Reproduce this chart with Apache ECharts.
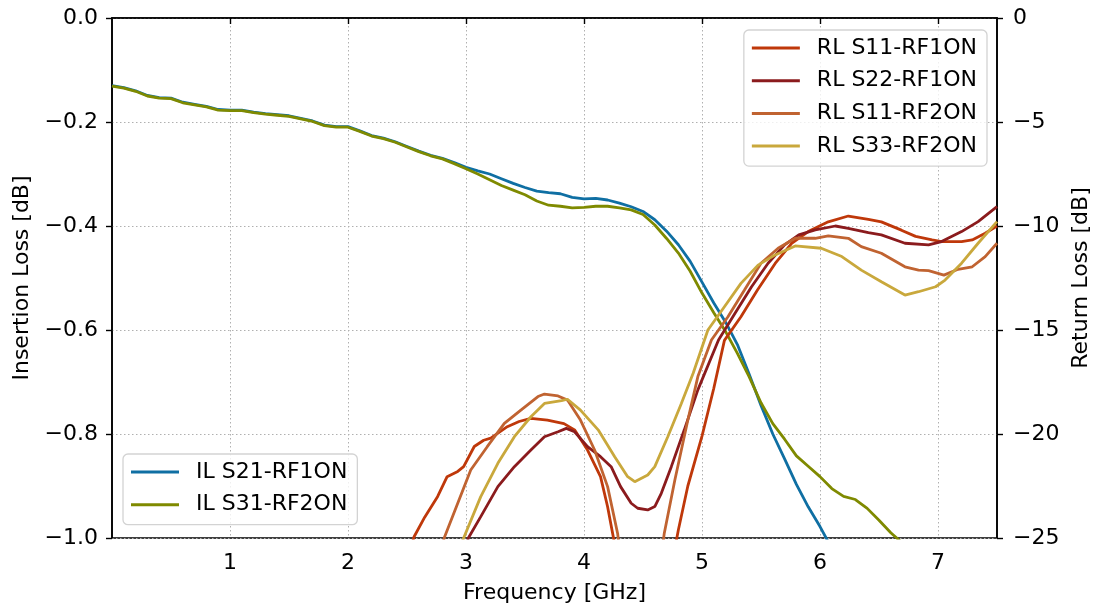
<!DOCTYPE html>
<html>
<head>
<meta charset="utf-8">
<script src="https://cdn.jsdelivr.net/npm/echarts@6/dist/echarts.min.js"></script>
<style>
  html, body { margin: 0; background: #fff; }
  #chart { width: 1094px; height: 608px; }
</style>
</head>
<body>
<div id="chart"></div>
<script>
// insertion loss, sampled every 0.1 GHz
const freqIL = [0.0, 0.1, 0.2, 0.3, 0.4, 0.5, 0.6, 0.7, 0.8, 0.9, 1.0, 1.1, 1.2, 1.3, 1.4, 1.5, 1.6, 1.7, 1.8, 1.9,
  2.0, 2.1, 2.2, 2.3, 2.4, 2.5, 2.6, 2.7, 2.8, 2.9, 3.0, 3.1, 3.2, 3.3, 3.4, 3.5, 3.6, 3.7, 3.8, 3.9,
  4.0, 4.1, 4.2, 4.3, 4.4, 4.5, 4.6, 4.7, 4.8, 4.9, 5.0, 5.1, 5.2, 5.3, 5.4, 5.5, 5.6, 5.7, 5.8, 5.9,
  6.0, 6.1, 6.2, 6.3, 6.4, 6.5, 6.6, 6.7, 6.8];
const ilS21 = [-0.130, -0.134, -0.140, -0.149, -0.153, -0.154, -0.162, -0.166, -0.170, -0.176, -0.177, -0.177, -0.181, -0.184, -0.186, -0.188, -0.193, -0.198, -0.206, -0.209,
  -0.209, -0.217, -0.226, -0.231, -0.238, -0.247, -0.256, -0.264, -0.270, -0.278, -0.287, -0.294, -0.300, -0.309, -0.318, -0.326, -0.333, -0.336, -0.338, -0.345,
  -0.348, -0.347, -0.350, -0.356, -0.363, -0.372, -0.388, -0.410, -0.436, -0.468, -0.508, -0.548, -0.585, -0.628, -0.685, -0.745, -0.800, -0.848, -0.897, -0.940,
  -0.978, -1.02, -1.06];
const ilS31 = [-0.131, -0.135, -0.141, -0.150, -0.154, -0.155, -0.163, -0.167, -0.171, -0.177, -0.178, -0.178, -0.182, -0.185, -0.187, -0.189, -0.194, -0.199, -0.207, -0.210,
  -0.210, -0.218, -0.227, -0.232, -0.239, -0.248, -0.257, -0.265, -0.271, -0.280, -0.290, -0.300, -0.311, -0.322, -0.331, -0.340, -0.352, -0.360, -0.362, -0.365,
  -0.364, -0.362, -0.362, -0.365, -0.369, -0.378, -0.398, -0.424, -0.452, -0.487, -0.529, -0.567, -0.603, -0.645, -0.690, -0.740, -0.780, -0.810, -0.842, -0.862,
  -0.882, -0.905, -0.920, -0.926, -0.943, -0.966, -0.990, -1.010, -1.040];

// return loss, read at uneven points
const s11Rf1Freq = [2.45, 2.56, 2.65, 2.76, 2.84, 2.93, 2.98, 3.07, 3.15, 3.21, 3.35, 3.45, 3.55, 3.69, 3.83, 3.92, 4.03, 4.14, 4.2, 4.3,
  4.72, 4.8, 4.88, 5.0, 5.1, 5.19, 5.33, 5.47, 5.62, 5.76, 5.9, 6.07, 6.24, 6.41, 6.52, 6.69, 6.81, 6.95, 7.03, 7.2, 7.29, 7.4, 7.5];
const s11Rf1RL = [-27, -24.94, -24.0, -23.0, -22.05, -21.8, -21.57, -20.6, -20.3, -20.2, -19.65, -19.4, -19.25, -19.33, -19.5, -19.8, -20.77, -22.05, -23.5, -26.5,
  -27, -24.6, -22.5, -20.1, -17.8, -15.5, -14.36, -13.08, -11.8, -10.83, -10.27, -9.8, -9.52, -9.68, -9.8, -10.2, -10.5, -10.67, -10.75, -10.75, -10.67, -10.35, -10.0];

const s22Rf1Freq = [2.95, 3.02, 3.125, 3.27, 3.41, 3.55, 3.665, 3.78, 3.85, 3.92, 4.03, 4.14, 4.23, 4.31, 4.4, 4.455, 4.54, 4.6, 4.655, 4.74,
  4.85, 4.965, 5.14, 5.28, 5.42, 5.56, 5.7, 5.82, 5.96, 6.13, 6.24, 6.41, 6.52, 6.72, 6.92, 7.03, 7.2, 7.34, 7.5];
const s22Rf1RL = [-26.5, -25.0, -23.97, -22.53, -21.57, -20.77, -20.13, -19.89, -19.73, -19.89, -20.61, -21.09, -21.57, -22.53, -23.33, -23.57, -23.65, -23.49, -22.85, -21.57,
  -19.8, -17.88, -15.48, -14.2, -12.92, -11.79, -10.91, -10.43, -10.19, -10.0, -10.11, -10.32, -10.43, -10.83, -10.91, -10.75, -10.27, -9.79, -9.07];

const s11Rf2Freq = [2.74, 2.815, 2.93, 3.04, 3.18, 3.325, 3.465, 3.61, 3.665, 3.78, 3.86, 3.97, 4.09, 4.2, 4.285, 4.33, 4.63, 4.68, 4.77, 4.88,
  4.965, 5.08, 5.22, 5.36, 5.5, 5.645, 5.79, 5.96, 6.07, 6.24, 6.35, 6.52, 6.72, 6.835, 6.92, 7.05, 7.17, 7.29, 7.4, 7.5];
const s11Rf2RL = [-27, -25.0, -23.33, -21.73, -20.61, -19.49, -18.85, -18.2, -18.08, -18.17, -18.37, -19.33, -20.77, -22.53, -24.78, -27, -27, -24.78, -22.21, -19.33,
  -17.24, -15.48, -14.36, -13.08, -11.79, -11.07, -10.59, -10.59, -10.48, -10.59, -10.99, -11.31, -11.96, -12.12, -12.15, -12.36, -12.08, -11.96, -11.47, -10.83];

const s33Rf2Freq = [2.9, 2.98, 3.125, 3.27, 3.41, 3.55, 3.665, 3.81, 3.86, 3.97, 4.12, 4.26, 4.37, 4.43, 4.54, 4.6, 4.71, 4.825, 4.925, 5.05,
  5.19, 5.33, 5.475, 5.62, 5.79, 6.01, 6.185, 6.35, 6.52, 6.72, 6.835, 6.98, 7.06, 7.2, 7.34, 7.5];
const s33Rf2RL = [-26.2, -25.0, -23.01, -21.41, -20.13, -19.17, -18.53, -18.4, -18.33, -18.85, -19.8, -21.09, -22.05, -22.29, -21.97, -21.57, -20.13, -18.53, -17.08, -15.0,
  -13.88, -12.76, -11.88, -11.39, -10.96, -11.07, -11.47, -12.12, -12.68, -13.32, -13.16, -12.92, -12.6, -11.79, -10.83, -9.79];

const xTicks = [1, 2, 3, 4, 5, 6, 7];

const FONT = "'DejaVu Sans', sans-serif";
const FS = 22;
const minus = (s) => String(s).replace('-', '\u2212');
const pair = (xs, ys) => ys.map((y, i) => [xs[i], y]);

const chart = echarts.init(document.getElementById('chart'), null, { renderer: 'canvas' });

function lineSeries(name, data, color, yAxisIndex) {
  return {
    name: name,
    type: 'line',
    yAxisIndex: yAxisIndex,
    data: data,
    showSymbol: false,
    symbol: 'none',
    clip: true,
    lineStyle: { color: color, width: 2.8 },
    itemStyle: { color: color },
    animation: false,
  };
}

const legendBase = {
  orient: 'vertical',
  icon: 'rect',
  itemWidth: 48,
  itemHeight: 3,
  itemGap: 10.7,
  backgroundColor: 'rgba(255,255,255,0.8)',
  borderColor: '#d3d3d3',
  borderWidth: 1.3,
  borderRadius: 5,
  padding: [7, 10, 9, 8],
  textStyle: { fontFamily: FONT, fontSize: FS, color: '#000', lineHeight: 22, padding: [0, 0, 0, 12] },
};

const option = {
  animation: false,
  backgroundColor: '#fff',
  grid: {
    left: 112, right: 97, top: 18, bottom: 70,
    outerBoundsMode: 'none',
    show: true, borderColor: '#000', borderWidth: 1.6, backgroundColor: 'transparent',
  },
  legend: [
    Object.assign({}, legendBase, {
      data: ['RL S11-RF1ON', 'RL S22-RF1ON', 'RL S11-RF2ON', 'RL S33-RF2ON'],
      right: 107, top: 30,
    }),
    Object.assign({}, legendBase, {
      data: ['IL S21-RF1ON', 'IL S31-RF2ON'],
      left: 123, top: 454,
    }),
  ],
  xAxis: {
    type: 'value',
    min: 0, max: 7.5, interval: 1,
    name: 'Frequency [GHz]',
    nameLocation: 'middle',
    nameGap: 44,
    nameTextStyle: { fontFamily: FONT, fontSize: FS, color: '#000' },
    axisLine: { show: true, lineStyle: { color: '#000', width: 1.6 } },
    axisTick: { show: true, length: 6, lineStyle: { color: '#000', width: 1.4 }, customValues: xTicks },
    axisLabel: { fontFamily: FONT, fontSize: FS, color: '#000', margin: 14, customValues: xTicks },
    splitLine: { show: true, lineStyle: { color: '#b0b0b0', width: 1, type: [1.5, 2.5] } },
  },
  yAxis: [
    {
      type: 'value',
      min: -1, max: 0, interval: 0.2,
      name: 'Insertion Loss [dB]',
      nameLocation: 'middle',
      nameGap: 79,
      nameTextStyle: { fontFamily: FONT, fontSize: FS, color: '#000' },
      axisLine: { show: true, lineStyle: { color: '#000', width: 1.6 } },
      axisTick: { show: true, length: 6, lineStyle: { color: '#000', width: 1.4 } },
      axisLabel: {
        fontFamily: FONT, fontSize: FS, color: '#000', margin: 14,
        formatter: (v) => minus(v.toFixed(1)),
      },
      splitLine: { show: true, lineStyle: { color: '#b0b0b0', width: 1, type: [1.5, 2.5] } },
    },
    {
      type: 'value',
      min: -25, max: 0, interval: 5,
      name: 'Return Loss [dB]',
      nameLocation: 'middle',
      nameGap: 73,
      nameTextStyle: { fontFamily: FONT, fontSize: FS, color: '#000' },
      position: 'right',
      axisLine: { show: true, onZero: false, lineStyle: { color: '#000', width: 1.6 } },
      axisTick: { show: true, length: 6, lineStyle: { color: '#000', width: 1.4 } },
      axisLabel: {
        fontFamily: FONT, fontSize: FS, color: '#000', margin: 16,
        formatter: (v) => minus(v),
      },
      splitLine: { show: false },
    },
  ],
  series: [
    lineSeries('IL S21-RF1ON', pair(freqIL, ilS21), '#0f6fa3', 0),
    lineSeries('IL S31-RF2ON', pair(freqIL, ilS31), '#7f8a00', 0),
    lineSeries('RL S11-RF1ON', pair(s11Rf1Freq, s11Rf1RL), '#bf380a', 1),
    lineSeries('RL S22-RF1ON', pair(s22Rf1Freq, s22Rf1RL), '#8b1b1d', 1),
    lineSeries('RL S11-RF2ON', pair(s11Rf2Freq, s11Rf2RL), '#c06331', 1),
    lineSeries('RL S33-RF2ON', pair(s33Rf2Freq, s33Rf2RL), '#c9a83c', 1),
  ],
};

chart.setOption(option);
window.addEventListener('resize', () => chart.resize());
</script>
</body>
</html>
